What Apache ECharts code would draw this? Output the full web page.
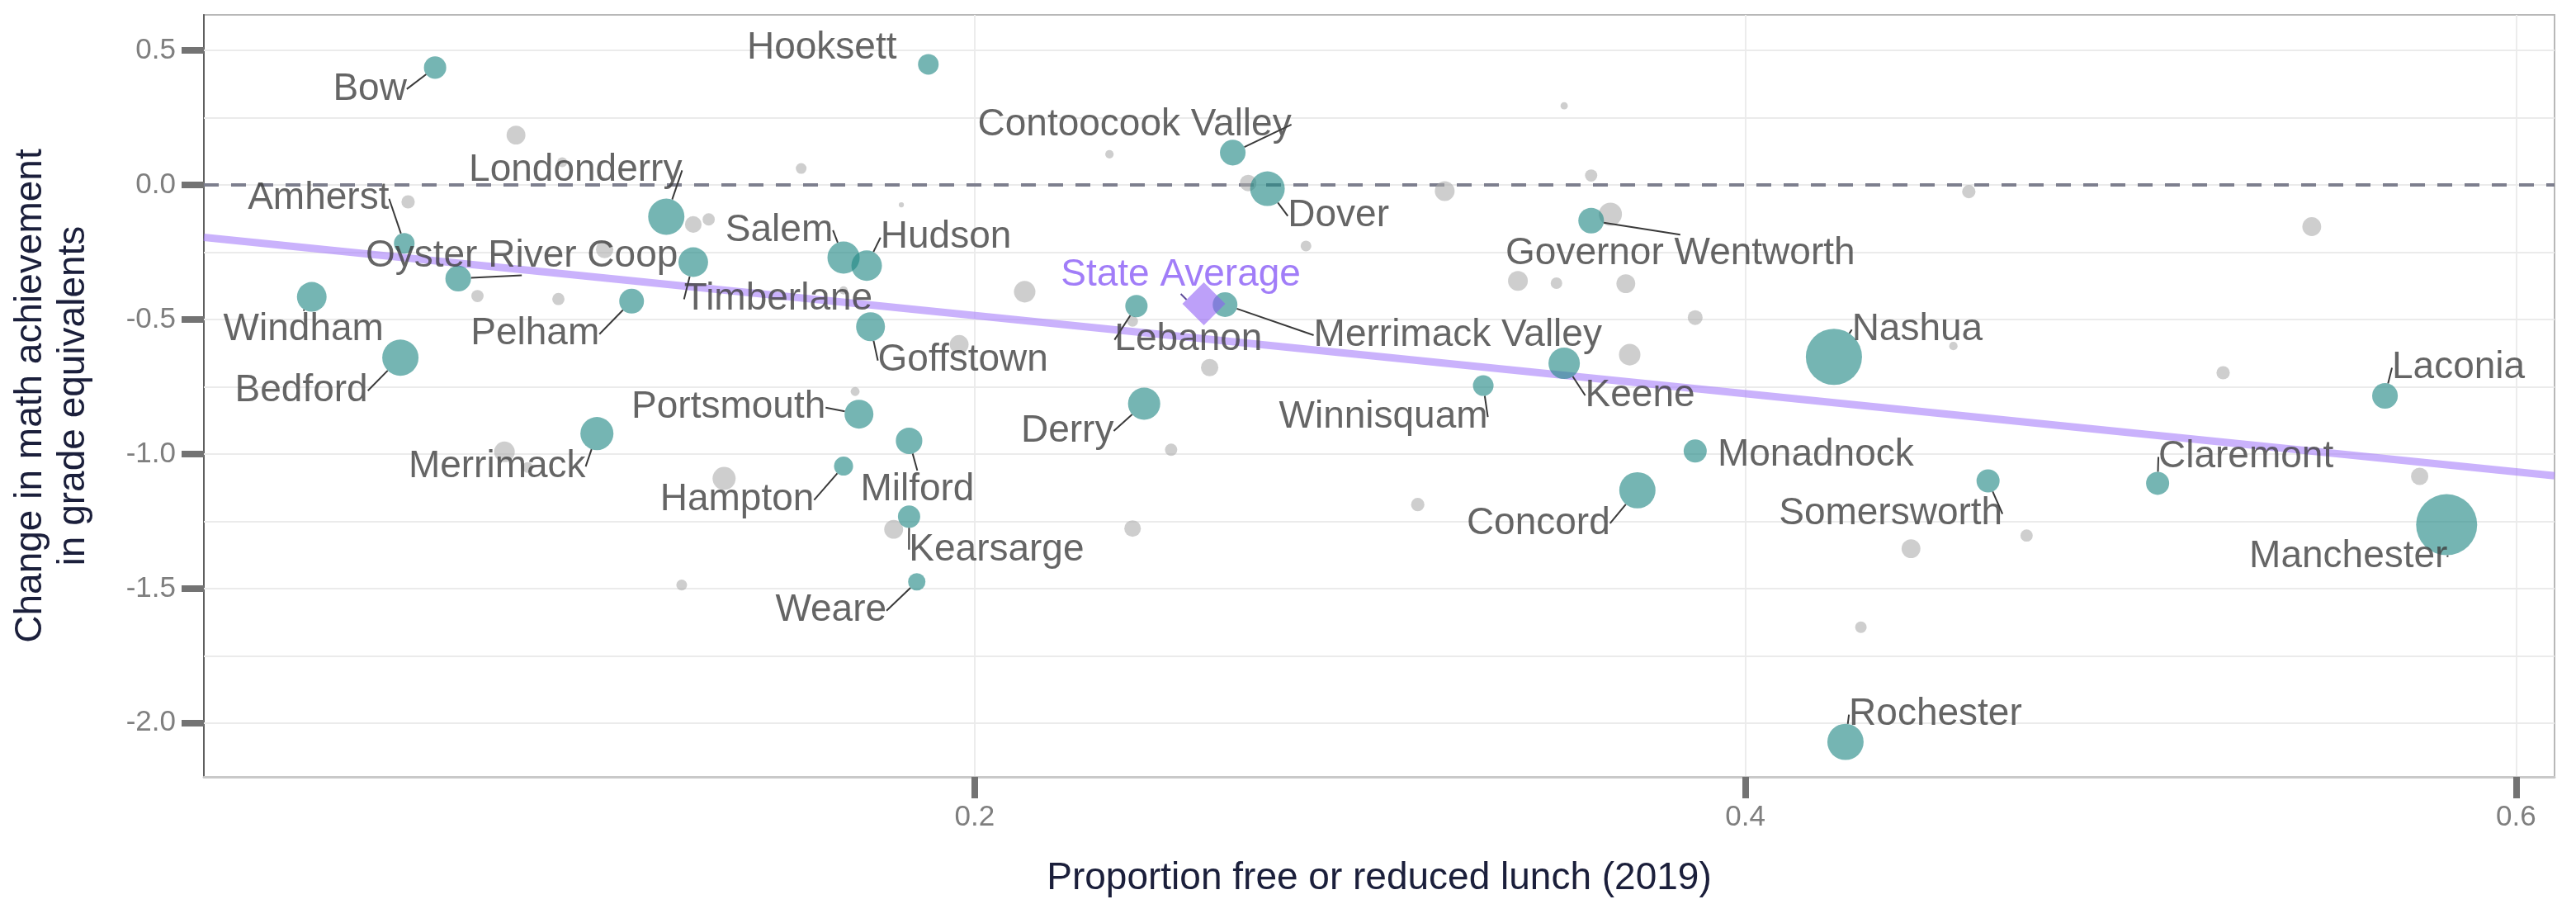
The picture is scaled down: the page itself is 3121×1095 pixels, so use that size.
<!DOCTYPE html>
<html><head><meta charset="utf-8">
<script src="https://cdn.jsdelivr.net/npm/echarts@6/dist/echarts.min.js"></script>
<style>html,body{margin:0;padding:0;background:#fff}#chart{width:3121px;height:1095px}</style>
</head><body><div id="chart"></div>
<script>
// ---------------- data ----------------
const districts = ['Bow','Hooksett','Contoocook Valley','Dover','Londonderry','Amherst','Oyster River Coop','Windham','Pelham','Bedford','Merrimack','Portsmouth','Timberlane','Salem','Hudson','Goffstown','Milford','Hampton','Kearsarge','Weare','Derry','Lebanon','Merrimack Valley','Governor Wentworth','Keene','Winnisquam','Nashua','Monadnock','Concord','Rochester','Somersworth','Claremont','Manchester','Laconia'];
const frl = [0.060,0.188,0.267,0.276,0.120,0.052,0.066,0.028,0.111,0.051,0.102,0.170,0.127,0.166,0.172,0.173,0.183,0.166,0.183,0.185,0.244,0.242,0.265,0.360,0.353,0.332,0.423,0.387,0.372,0.426,0.463,0.507,0.582,0.566];
const change = [0.436,0.448,0.120,-0.014,-0.118,-0.217,-0.348,-0.416,-0.432,-0.642,-0.924,-0.852,-0.287,-0.270,-0.300,-0.527,-0.951,-1.045,-1.233,-1.475,-0.813,-0.450,-0.445,-0.133,-0.663,-0.746,-0.639,-0.989,-1.135,-2.070,-1.100,-1.109,-1.263,-0.784];
const students = [560,480,740,1350,1480,480,740,990,690,1480,1230,940,990,1170,1050,940,790,410,560,340,1170,560,690,740,1110,480,3550,600,1480,1480,600,600,4200,740];

const otherFrl = [0.081,0.093,0.053,0.104,0.071,0.092,0.078,0.084,0.155,0.131,0.127,0.181,0.166,0.213,0.196,0.241,0.261,0.235,0.271,0.286,0.169,0.135,0.251,0.179,0.241,0.124,0.353,0.322,0.360,0.365,0.341,0.351,0.369,0.387,0.370,0.458,0.454,0.547,0.524,0.315,0.443,0.430,0.575,0.473];
const otherChange = [0.185,0.084,-0.063,-0.240,-0.413,-0.424,-0.992,-1.050,0.061,-0.128,-0.147,-0.074,-0.392,-0.397,-0.593,-0.507,-0.679,0.114,0.007,-0.227,-0.768,-1.091,-0.984,-1.280,-1.277,-1.487,0.294,-0.023,0.035,-0.109,-0.357,-0.365,-0.367,-0.493,-0.631,-0.025,-0.599,-0.155,-0.698,-1.188,-1.352,-1.644,-1.083,-1.303];
const otherStudents = [400,110,200,340,170,170,480,130,130,170,310,30,80,520,400,130,340,80,310,130,90,600,170,400,310,130,60,440,170,600,440,150,400,250,520,200,80,400,200,200,400,150,340,170];

const stateLabel = ['State Average'];
const stateFrl = [0.2595];
const stateChange = [-0.442];

const trendFrl = [0, 0.61];
const trendChange = [-0.195, -1.081];

const xTicks = [0.2, 0.4, 0.6];
const yTicks = [-2.0, -1.5, -1.0, -0.5, 0.0, 0.5];
const yGrid = [-2.0, -1.75, -1.5, -1.25, -1.0, -0.75, -0.5, -0.25, 0.0, 0.25, 0.5];
const zeroLine = [0];

// ---------------- styling ----------------
const FONT = 'Liberation Sans, Arial, Helvetica, sans-serif';
const sizeK = 74 / Math.sqrt(4200);
const labelOffsets = {
  'Bow':[-79,26],'Hooksett':[-129,-20],'Contoocook Valley':[-119,-34],'Dover':[86,33],
  'Londonderry':[-110,-56],'Amherst':[-104,-54],'Oyster River Coop':[77,-27],'Windham':[-10,40],
  'Pelham':[-117,40],'Bedford':[-120,40],'Merrimack':[-121,40],'Portsmouth':[-158,-8],
  'Timberlane':[103,45],'Salem':[-78,-33],'Hudson':[96,-34],'Goffstown':[112,41],
  'Milford':[10,59],'Hampton':[-129,41],'Kearsarge':[106,40],'Weare':[-104,35],
  'Derry':[-93,33],'Lebanon':[63,41],'Merrimack Valley':[282,37],'Governor Wentworth':[108,40],
  'Keene':[92,39],'Winnisquam':[-121,38],'Nashua':[101,-33],'Monadnock':[146,5],
  'Concord':[-120,40],'Rochester':[109,-33],'Somersworth':[-118,40],'Claremont':[107,-32],
  'Manchester':[-119,39],'Laconia':[89,-34],'State Average':[-28,-35]
};
const noLeader = ['Hooksett','Monadnock'];

const chart = echarts.init(document.getElementById('chart'), null, {renderer:'canvas'});

const option = {
  animation: false,
  backgroundColor: '#ffffff',
  grid: {left:247, right:26, top:18, bottom:154, show:true, borderColor:'#b8b8b8', borderWidth:2, backgroundColor:'transparent', outerBoundsMode:'none', containLabel:false},
  xAxis: {
    type:'value', min:0, max:0.61, interval:0.1,
    splitLine:{show:true, lineStyle:{color:'#ececec', width:2}},
    axisLine:{show:true, onZero:false, lineStyle:{color:'#c9c9c9', width:3}},
    axisTick:{show:true, customValues:xTicks, length:26, lineStyle:{color:'#737373', width:8}},
    axisLabel:{show:true, customValues:xTicks, formatter:v=>Number(v).toFixed(1), margin:32, color:'#7f7f7f', fontSize:35, fontFamily:FONT},
    name:'Proportion free or reduced lunch (2019)', nameLocation:'middle', nameGap:100,
    nameTextStyle:{fontSize:46, color:'#1b1f3b', fontFamily:FONT}
  },
  yAxis: {
    type:'value', min:-2.2, max:0.632,
    splitLine:{show:false},
    axisLine:{show:true, onZero:false, lineStyle:{color:'#5f5f5f', width:2}},
    axisTick:{show:true, customValues:yTicks, length:27, lineStyle:{color:'#737373', width:8}},
    axisLabel:{show:true, customValues:yTicks, formatter:v=>Number(v).toFixed(1), margin:34, color:'#7f7f7f', fontSize:35, fontFamily:FONT},
    name:'Change in math achievement\nin grade equivalents', nameLocation:'middle', nameGap:132,
    nameTextStyle:{fontSize:46, lineHeight:52, color:'#1b1f3b', fontFamily:FONT, align:'center'}
  },
  series: [
    {
      type:'scatter', name:'other', z:2, silent:true,
      data: otherFrl.map((x,i)=>[x, otherChange[i], otherStudents[i]]),
      symbolSize: v => sizeK*Math.sqrt(v[2]),
      itemStyle:{color:'rgba(170,170,170,0.72)'},
      markLine:{
        silent:true, z:1, symbol:['none','none'], label:{show:false},
        lineStyle:{color:'#ebebeb', width:2, type:'solid'},
        data: yGrid.map(v=>({yAxis:v})).concat(zeroLine.map(v=>({yAxis:v, lineStyle:{color:'#7d7f8e', width:4, type:[18,15]}})))
      }
    },
    {
      type:'line', name:'trend', z:3, silent:true, showSymbol:false, symbol:'none',
      data: trendFrl.map((x,i)=>[x, trendChange[i]]),
      lineStyle:{color:'rgba(170,130,250,0.62)', width:9}
    },
    {
      type:'scatter', name:'districts', z:4, silent:true,
      data: districts.map((d,i)=>{
        const item = {name:d, value:[frl[i], change[i], students[i]]};
        if (noLeader.includes(d)) item.labelLine = {show:false};
        return item;
      }),
      symbolSize: v => sizeK*Math.sqrt(v[2]),
      itemStyle:{color:'rgba(34,136,133,0.78)'},
      label:{show:true, position:'inside', formatter:'{b}', color:'#3f3f3f', fontSize:46, fontFamily:FONT, textBorderWidth:0, textBorderColor:'transparent'},
      labelLine:{show:true, lineStyle:{color:'#3a3a3a', width:2}},
      labelLayout: p => { const o = labelOffsets[districts[p.dataIndex]] || [0,0]; return {dx:o[0], dy:o[1]}; }
    },
    {
      type:'scatter', name:'state', z:5, silent:true,
      data: stateFrl.map((x,i)=>({name:stateLabel[i], value:[x, stateChange[i]]})),
      symbol:'diamond', symbolSize:52,
      itemStyle:{color:'rgba(140,90,245,0.72)'},
      label:{show:true, position:'inside', formatter:'{b}', color:'#8a5cf6', fontSize:46, fontFamily:FONT, textBorderWidth:0, textBorderColor:'transparent'},
      labelLine:{show:true, lineStyle:{color:'#5d4a99', width:2}},
      labelLayout: p => { const o = labelOffsets[stateLabel[p.dataIndex]]; return {dx:o[0], dy:o[1]}; }
    }
  ]
};
chart.setOption(option);
</script>
</body></html>
